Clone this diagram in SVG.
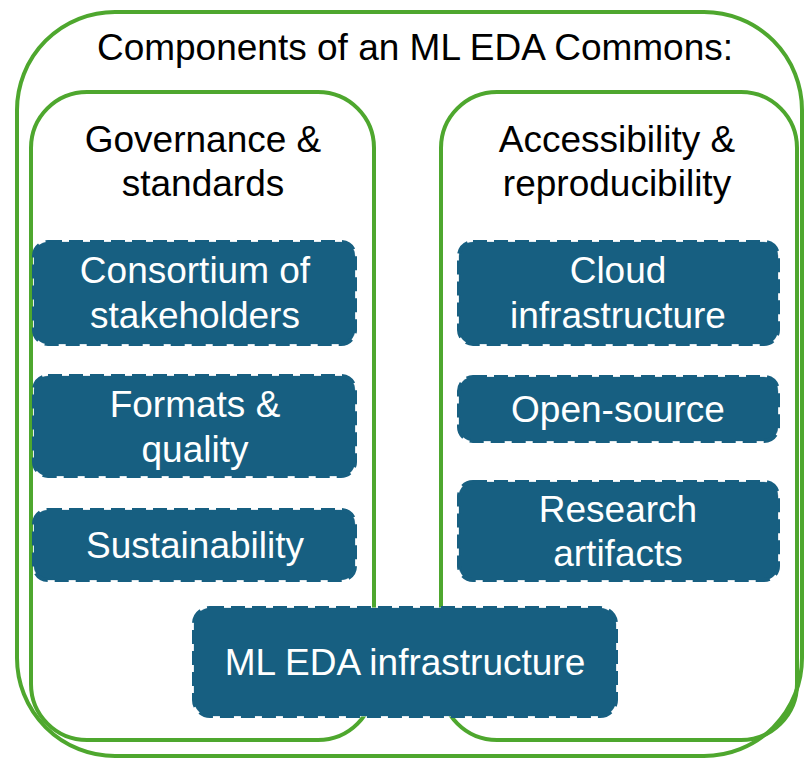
<svg xmlns="http://www.w3.org/2000/svg" width="804" height="758" viewBox="0 0 804 758">
<style>
.grp{fill:none;stroke:#4ea72e;stroke-width:4}
.box{fill:#175f81;stroke:#175f81;stroke-width:4;stroke-dasharray:14 7}
.edge{fill:none;stroke:#c6d6e0;stroke-width:1}
text{font-family:"Liberation Sans",Arial,sans-serif;font-size:37px;text-anchor:middle}
.dk{fill:#000}
.wt{fill:#fff}
</style>
<rect width="804" height="758" fill="#fff"/>
<g id="commons">
<rect class="grp" x="17" y="12" width="785" height="744" rx="98"/>
<text class="dk" x="415" y="60">Components of an ML EDA Commons:</text>
</g>
<g id="governance">
<rect class="grp" x="31" y="92" width="343" height="648" rx="56"/>
<text class="dk" x="203" y="152">Governance &amp;</text>
<text class="dk" x="203" y="196">standards</text>
</g>
<g id="accessibility">
<rect class="grp" x="441" y="92" width="356" height="648" rx="56"/>
<text class="dk" x="617" y="152">Accessibility &amp;</text>
<text class="dk" x="617" y="196">reproducibility</text>
</g>
<g id="consortium">
<rect class="edge" x="34" y="242" width="321" height="102" rx="14"/>
<rect class="box" x="34" y="242" width="321" height="102" rx="14"/>
<text class="wt" x="195" y="283">Consortium of</text>
<text class="wt" x="195" y="328">stakeholders</text>
</g>
<g id="formats">
<rect class="edge" x="34" y="376" width="321" height="100" rx="14"/>
<rect class="box" x="34" y="376" width="321" height="100" rx="14"/>
<text class="wt" x="195" y="417">Formats &amp;</text>
<text class="wt" x="195" y="462">quality</text>
</g>
<g id="sustainability">
<rect class="edge" x="34" y="510" width="321" height="70" rx="14"/>
<rect class="box" x="34" y="510" width="321" height="70" rx="14"/>
<text class="wt" x="195" y="558">Sustainability</text>
</g>
<g id="cloud">
<rect class="edge" x="459" y="242" width="319" height="102" rx="14"/>
<rect class="box" x="459" y="242" width="319" height="102" rx="14"/>
<text class="wt" x="618" y="283">Cloud</text>
<text class="wt" x="618" y="328">infrastructure</text>
</g>
<g id="opensource">
<rect class="edge" x="459" y="377" width="319" height="64" rx="14"/>
<rect class="box" x="459" y="377" width="319" height="64" rx="14"/>
<text class="wt" x="618" y="422">Open-source</text>
</g>
<g id="research">
<rect class="edge" x="459" y="482" width="319" height="98" rx="14"/>
<rect class="box" x="459" y="482" width="319" height="98" rx="14"/>
<text class="wt" x="618" y="522">Research</text>
<text class="wt" x="618" y="566">artifacts</text>
</g>
<g id="mleda">
<rect class="edge" x="194" y="608" width="422" height="108" rx="16"/>
<rect class="box" x="194" y="608" width="422" height="108" rx="16"/>
<text class="wt" x="405" y="675">ML EDA infrastructure</text>
</g>
<g id="connectors"></g>
</svg>
